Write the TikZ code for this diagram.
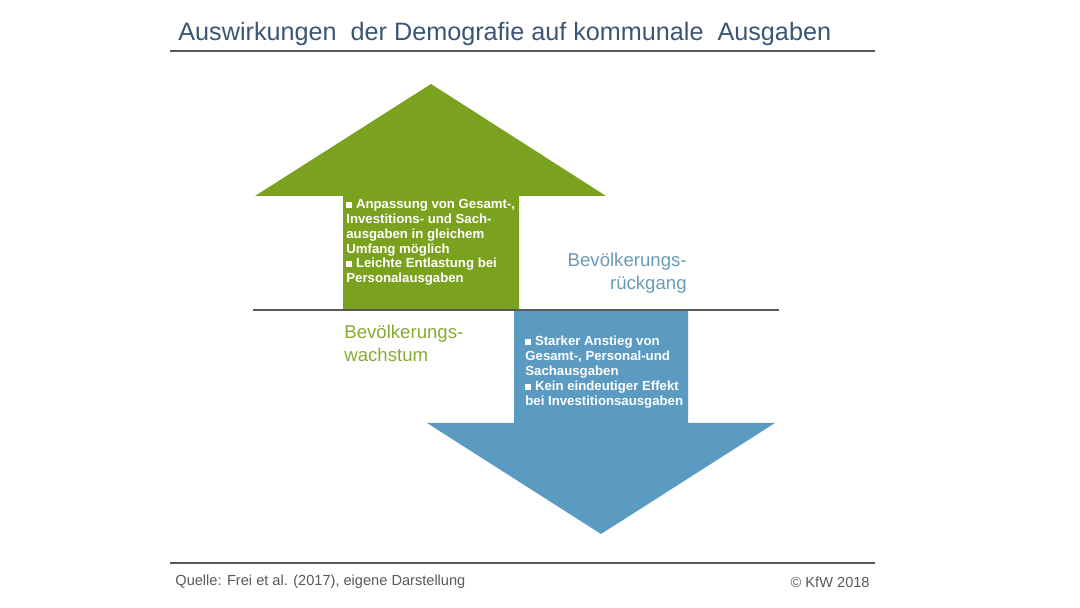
\documentclass[tikz,border=0pt]{standalone}
\usepackage{fontspec}
\setmainfont{Liberation Sans}
\definecolor{kfwgreen}{HTML}{7BA21F}
\definecolor{kfwblue}{HTML}{5B9BC1}
\definecolor{titleblue}{HTML}{3B5574}
\definecolor{labelblue}{HTML}{6B9AB8}
\definecolor{labelgreen}{HTML}{86AC32}
\definecolor{rulegray}{HTML}{595959}
\newcommand{\sqbullet}{\rule[0.1ex]{0.45em}{0.45em}\ }
\tikzset{
  boxtext/.style={text=white,font=\bfseries\fontsize{6.6pt}{7.4pt}\selectfont,align=left,inner sep=0pt},
  sidelabel/.style={font=\fontsize{9.3pt}{11.5pt}\selectfont,inner sep=0pt}
}

\begin{document}
\begin{tikzpicture}[x=0.5pt,y=-0.5pt]
\path[fill=white] (0,0) rectangle (1080,608);
\node[anchor=base west,inner sep=0pt,text=titleblue,font=\fontsize{12.6pt}{14pt}\selectfont] (title) at (178,41) {Auswirkungen\ \ der Demografie auf kommunale\ \ Ausgaben};
\draw[line width=1pt,rulegray] (170,51) -- (875,51);
\fill[kfwgreen] (431,84) -- (606,196) -- (519,196) -- (519,310) -- (343,310) -- (343,196) -- (255,196) -- cycle;
\fill[kfwblue] (514,310) -- (688,310) -- (688,423) -- (775,423) -- (601,534) -- (427,423) -- (514,423) -- cycle;
\draw[line width=0.9pt,rulegray] (253,310) -- (779,310);
\node[boxtext,anchor=north west] (growthtext) at (346,199) {\sqbullet Anpassung von Gesamt-,\\Investitions- und Sach-\\ausgaben in gleichem\\Umfang möglich\\\sqbullet Leichte Entlastung bei\\Personalausgaben};
\node[boxtext,anchor=north west] (declinetext) at (525,336) {\sqbullet Starker Anstieg von\\Gesamt-, Personal-und\\Sachausgaben\\\sqbullet Kein eindeutiger Effekt\\bei Investitionsausgaben};
\node[sidelabel,anchor=north east,align=right,text=labelblue] (decline) at (687,253) {Bevölkerungs-\\rückgang};
\node[sidelabel,anchor=north west,align=left,text=labelgreen] (growth) at (344,325) {Bevölkerungs-\\wachstum};
\draw[line width=1pt,rulegray] (170,563) -- (875,563);
\node[anchor=west,inner sep=0pt,text=rulegray,font=\fontsize{7.3pt}{8pt}\selectfont] (source) at (175,582) {Quelle: Frei et al. (2017), eigene Darstellung};
\node[anchor=east,inner sep=0pt,text=rulegray,font=\fontsize{7.3pt}{8pt}\selectfont] (copyright) at (870,582) {© KfW 2018};
\path (0,0) rectangle (1080,608);
\end{tikzpicture}
\end{document}
